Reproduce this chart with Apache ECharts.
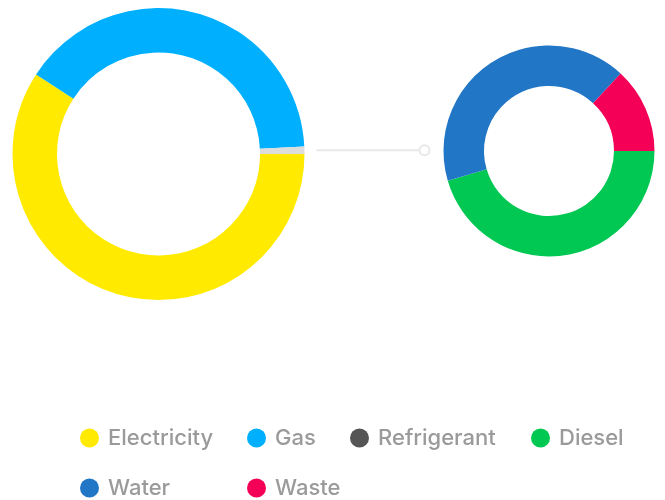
<!DOCTYPE html>
<html>
<head>
<meta charset="utf-8">
<title>Emissions by source</title>
<script src="https://cdn.jsdelivr.net/npm/echarts@6/dist/echarts.min.js"></script>
<style>
  html, body { margin: 0; padding: 0; background: #fff; }
  #chart { width: 665px; height: 500px; }
</style>
</head>
<body>
<div id="chart"></div>
<script>
// Main breakdown (left ring) and the small sources broken out (right ring)
const mainNames = ['Electricity', 'Gas', 'Refrigerant'];
const mainValues = [710, 480, 0];
const subNames = ['Diesel', 'Water', 'Waste'];
const subValues = [4.5, 4.1, 1.3];
const otherName = 'Other';

const colors = {
  Electricity: '#FFEA00',
  Gas: '#00B0FF',
  Refrigerant: '#555555',
  Diesel: '#00C853',
  Water: '#2177C6',
  Waste: '#F50057',
  Other: '#DDDDDD'
};

// Ring geometry
const mainCenter = [158.5, 154];
const mainRadius = [101.5, 146];
const subCenter = [549, 151];
const subRadius = [65, 105.5];

const otherValue = subValues.reduce((a, b) => a + b, 0);

const mainData = mainNames.map((n, i) => ({ name: n, value: mainValues[i], itemStyle: { color: colors[n] } }));
mainData.push({ name: otherName, value: otherValue, itemStyle: { color: colors[otherName] } });
const subData = subNames.map((n, i) => ({ name: n, value: subValues[i], itemStyle: { color: colors[n] } }));

// Mid angle of the grouped slice (pie runs clockwise from 3 o'clock, grouped slice is last)
const mainTotal = mainData.reduce((a, d) => a + d.value, 0);
const otherMidDeg = (otherValue / mainTotal) * 360 / 2;
const lineY = mainCenter[1] - mainRadius[1] * Math.sin(otherMidDeg * Math.PI / 180);
const lineX0 = mainCenter[0] + (mainRadius[1] + 12) * Math.cos(otherMidDeg * Math.PI / 180);
const dotX = subCenter[0] - subRadius[1] - 19;
const dotR = 5;

// Legend laid out as a grid: one entry per cell
const legendOrder = ['Electricity', 'Gas', 'Refrigerant', 'Diesel', 'Water', 'Waste'];
const legendCols = [75, 242, 345, 526];
const legendRows = [423, 473];

const legendBase = {
  orient: 'horizontal',
  padding: 0,
  icon: 'circle',
  itemWidth: 19,
  itemHeight: 19,
  selectedMode: false,
  textStyle: {
    color: '#9A9A9A',
    fontSize: 22,
    fontFamily: 'Inter',
    fontWeight: 500,
    lineHeight: 30,
    padding: [0, 0, 0, 4]
  }
};

const legends = legendOrder.map((name, i) => Object.assign({}, legendBase, {
  left: legendCols[i % 4] + 5,
  top: legendRows[Math.floor(i / 4)],
  data: [name]
}));

const chart = echarts.init(document.getElementById('chart'), null, { renderer: 'canvas' });

chart.setOption({
  backgroundColor: '#ffffff',
  animation: false,
  legend: legends,
  series: [
    {
      type: 'pie',
      center: mainCenter,
      radius: mainRadius,
      startAngle: 0,
      clockwise: true,
      label: { show: false },
      labelLine: { show: false },
      emphasis: { disabled: true },
      data: mainData
    },
    {
      type: 'pie',
      center: subCenter,
      radius: subRadius,
      startAngle: 0,
      clockwise: true,
      label: { show: false },
      labelLine: { show: false },
      emphasis: { disabled: true },
      data: subData
    }
  ],
  graphic: [
    {
      type: 'line',
      shape: { x1: lineX0, y1: lineY, x2: dotX - dotR, y2: lineY },
      style: { stroke: '#E8E8E8', lineWidth: 2 }
    },
    {
      type: 'circle',
      shape: { cx: dotX, cy: lineY, r: dotR },
      style: { fill: '#ffffff', stroke: '#E8E8E8', lineWidth: 2 }
    }
  ]
});
</script>
</body>
</html>
